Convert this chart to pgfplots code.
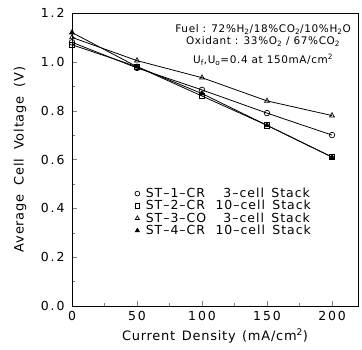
\documentclass[border=0pt]{standalone}
\usepackage{pgfplots}
\pgfplotsset{compat=1.18}
\usepackage{fontspec}
\setmainfont[LetterSpace=6]{DejaVu Sans}
\newfontfamily\tickfont[LetterSpace=15]{DejaVu Sans}
\newfontfamily\legfont[LetterSpace=8]{DejaVu Sans}
\begin{document}
\begin{tikzpicture}
\begin{axis}[
  name=ax,
  scale only axis,
  width=286bp, height=293bp,
  xmin=0, xmax=220, ymin=0, ymax=1.2,
  xtick={0,50,100,150,200},
  ytick={0,0.2,0.4,0.6,0.8,1.0,1.2},
  minor xtick={25,75,125,175},
  minor ytick={0.1,0.3,0.5,0.7,0.9,1.1},
  tick pos=left,
  tick align=inside,
  major tick length=5bp, minor tick length=3bp,
  yticklabel style={/pgf/number format/fixed, /pgf/number format/fixed zerofill, /pgf/number format/precision=1, xshift=-4bp},
  xticklabel style={yshift=-2bp},
  /pgf/number format/assume math mode=true,
  tick label style={font=\tickfont\fontsize{12.5}{14}\selectfont},
  xlabel={Current\hspace{0.5em}Density\hspace{0.5em}(mA/cm\textsuperscript{2})},
  ylabel={Average\hspace{0.7em}Cell\hspace{0.7em}Voltage\hspace{0.7em}(V)},
  every axis x label/.style={at={(axis description cs:0.5,0)}, yshift=-30bp, anchor=center, font=\fontsize{13}{15}\selectfont},
  every axis y label/.style={at={(axis description cs:0,0.5)}, xshift=-52bp, rotate=90, anchor=center, font=\fontsize{13}{15}\selectfont},
  axis line style={line width=0.9pt},
  every axis plot/.append style={black, line width=0.8pt, mark size=2.8pt, mark options={solid, line width=0.7pt}},
  legend style={draw=none, fill=none, at={(axis cs:46,0.50)}, anchor=north west, font=\legfont\fontsize{12.5}{13.3}\selectfont, row sep=-2.6pt, legend cell align=left, nodes={inner xsep=6bp}},
  legend image post style={only marks, mark size=2.4pt},
  legend image code/.code={\draw[#1] plot coordinates {(0.1cm,0cm)};},
]
\addplot[mark=o] coordinates {(0,1.08) (50,0.975) (100,0.885) (150,0.79) (200,0.70)};
\addlegendentry{\makebox[5.6em][l]{ST–1–CR}\hphantom{1}3–cell\hspace{0.6em}Stack}
\addplot[mark=square] coordinates {(0,1.07) (50,0.98) (100,0.86) (150,0.74) (200,0.61)};
\addlegendentry{\makebox[5.6em][l]{ST–2–CR}10–cell\hspace{0.6em}Stack}
\addplot[mark=triangle] coordinates {(0,1.10) (50,1.005) (100,0.935) (150,0.84) (200,0.78)};
\addlegendentry{\makebox[5.6em][l]{ST–3–CO}\hphantom{1}3–cell\hspace{0.6em}Stack}
\addplot[mark=triangle*] coordinates {(0,1.12) (50,0.98) (100,0.87) (150,0.74) (200,0.61)};
\addlegendentry{\makebox[5.6em][l]{ST–4–CR}10–cell\hspace{0.6em}Stack}
\node[anchor=north, align=center, font=\fontsize{10.5}{12}\selectfont, inner sep=0pt] at (axis cs:147,1.152)
  {Fuel : 72\%H\textsubscript{2}/18\%CO\textsubscript{2}/10\%H\textsubscript{2}O\\
   Oxidant : 33\%O\textsubscript{2} / 67\%CO\textsubscript{2}\\[7pt]
   U\textsubscript{f},U\textsubscript{o}=0.4 at 150mA/cm\textsuperscript{2}};
\end{axis}
\pgfresetboundingbox
\path[use as bounding box] ([shift={(-72bp,-44bp)}]ax.south west) rectangle ([shift={(4bp,13bp)}]ax.north east);
\end{tikzpicture}
\end{document}
